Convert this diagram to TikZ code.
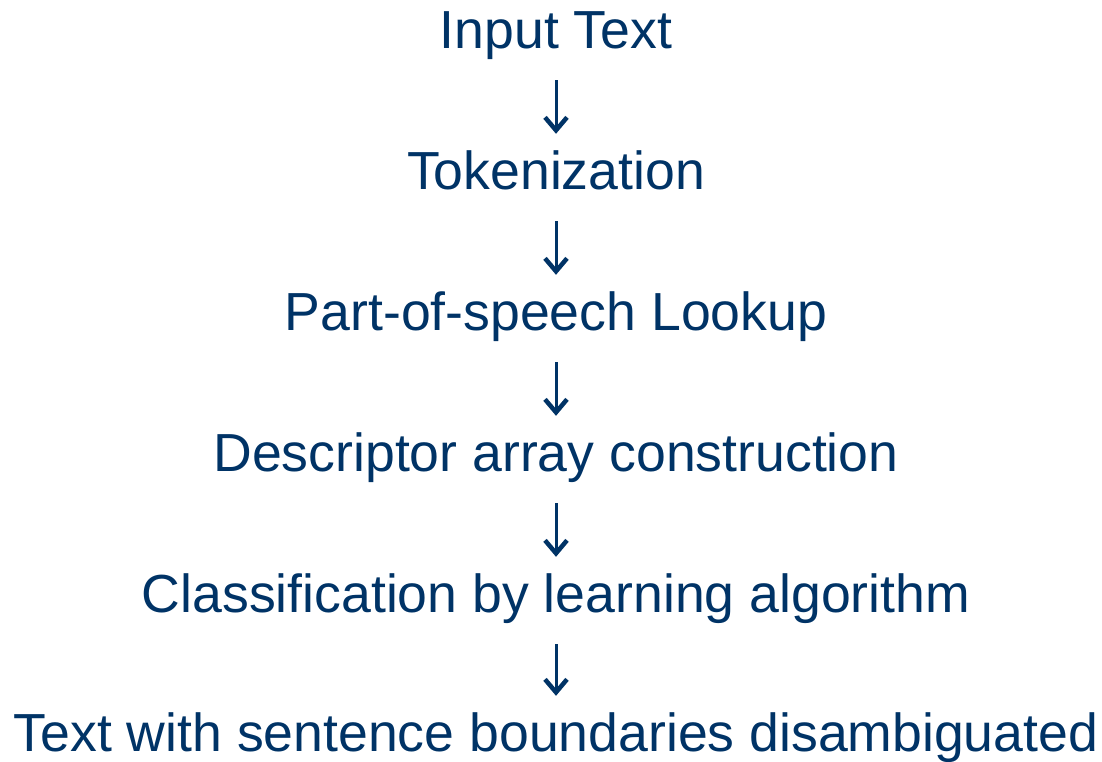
\documentclass[tikz,border=0pt]{standalone}
\usepackage{fontspec}
\setmainfont{Liberation Sans}
\usetikzlibrary{arrows.meta}
\definecolor{navy}{RGB}{0,51,102}
\begin{document}
\begin{tikzpicture}[x=1pt,y=1pt,
  stage/.style={anchor=base, inner sep=0pt, text height=38pt, text depth=11pt,
    text=navy, font=\fontsize{53.6}{60}\selectfont},
  flow/.style={draw=navy, line width=3pt,
    -{Straight Barb[length=13pt,width=22pt,line width=4.5pt]},
    shorten <=21pt, shorten >=17pt}]
\useasboundingbox (0,0) rectangle (1102,-761);
\node[stage] (s1) at (556,-48) {Input Text};
\node[stage] (s2) at (556,-189) {Tokenization};
\node[stage] (s3) at (556,-330) {Part-of-speech Lookup};
\node[stage] (s4) at (556,-471) {Descriptor array construction};
\node[stage] (s5) at (556,-612) {Classification by learning algorithm};
\node[stage, text depth=8pt] (s6) at (556,-751) {Text with sentence boundaries disambiguated};
\foreach \a/\b in {s1/s2,s2/s3,s3/s4,s4/s5,s5/s6}
  \draw[flow] (\a.south) -- (\b.north);
\end{tikzpicture}
\end{document}
